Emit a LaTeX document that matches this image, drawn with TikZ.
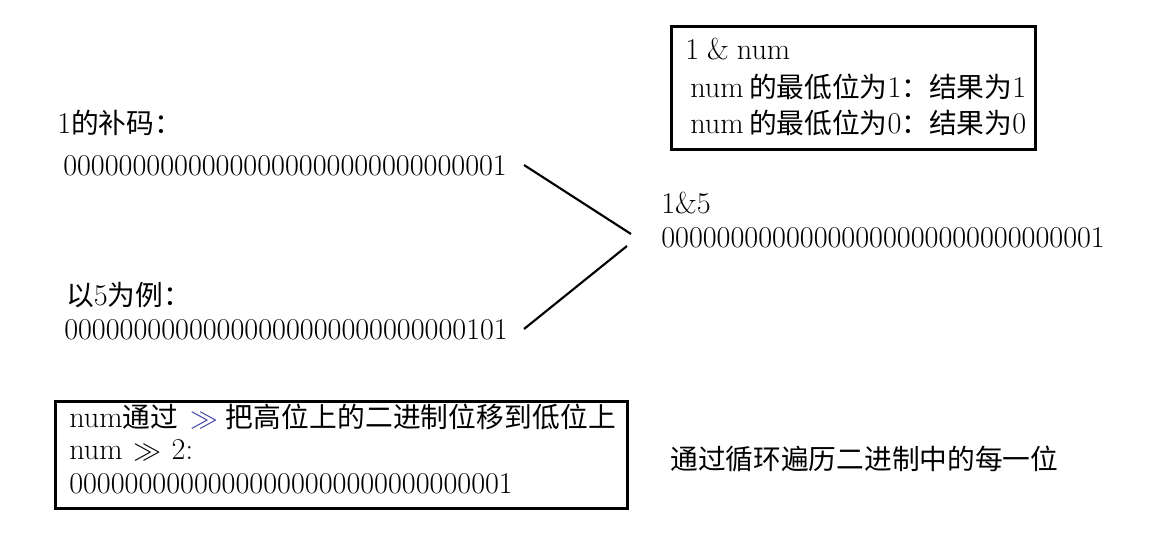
\documentclass[tikz,border=0pt]{standalone}
\usepackage{fontspec}
\usepackage{tikz}
\newfontfamily\cjk[Scale=0.918]{Noto Sans CJK SC}
\newfontfamily\cjkwide[Scale=0.918,LetterSpace=0.6]{Noto Sans CJK SC}
\definecolor{shiftblue}{RGB}{60,60,160}
\usetikzlibrary{
    positioning
}

\begin{document}
\begin{tikzpicture}[x=0.75pt, y=-0.75pt,
    txt/.style={anchor=base west, inner sep=0pt, font=\fontsize{22.65}{27}\selectfont},
    codebox/.style={draw, line width=2.5pt, anchor=north west, inner sep=0pt},
    link/.style={line width=1.6pt}]
    \useasboundingbox (0,0) rectangle (1159,546);

    \coordinate (onetip) at (524,165);
    \coordinate (andtopin) at (631,234);
    \coordinate (andbotin) at (627,246);
    \coordinate (fivetip) at (524,329);

    \node[codebox, minimum width=273pt, minimum height=92.25pt] (topbox) at (670,25) {};
    \node[codebox, minimum width=429pt, minimum height=80.25pt] (bottombox) at (53.5,399.5) {};

    \node[txt] (tophead) at (685,59) {1\hspace{6pt}\&\hspace{6pt}num};
    \node[txt] (toplinea) at (690,97) {num\hspace{4pt}{\cjk 的最低位为}1{\cjk ：结果为}1};
    \node[txt] (toplineb) at (690,133) {num\hspace{4pt}{\cjk 的最低位为}0{\cjk ：结果为}0};

    \node[txt] (titleone) at (57,133) {1{\cjk 的补码：}};
    \node[txt] (bitsone) at (63,175) {00000000000000000000000000000001};
    \node[txt] (titlefive) at (66,305) {{\cjk 以}5{\cjk 为例：}};
    \node[txt] (bitsfive) at (64,339) {00000000000000000000000000000101};

    \node[txt] (titleand) at (661,213) {1\&5};
    \node[txt] (bitsand) at (661,247) {00000000000000000000000000000001};

    \node[txt] (shifthead) at (69,427) {num{\cjk 通过}\hspace{9pt}{\color{shiftblue}$\gg$}\hspace{6pt}{\cjkwide 把高位上的二进制位移到低位上}};
    \node[txt] (shiftline) at (69,459) {num\hspace{8pt}$\gg$\hspace{8pt}2:};
    \node[txt] (bitsshift) at (69,493) {00000000000000000000000000000001};

    \node[txt] (loopnote) at (670,469) {\cjk 通过循环遍历二进制中的每一位};

    \draw[link] (onetip) -- (andtopin);
    \draw[link] (fivetip) -- (andbotin);
\end{tikzpicture}
\end{document}
